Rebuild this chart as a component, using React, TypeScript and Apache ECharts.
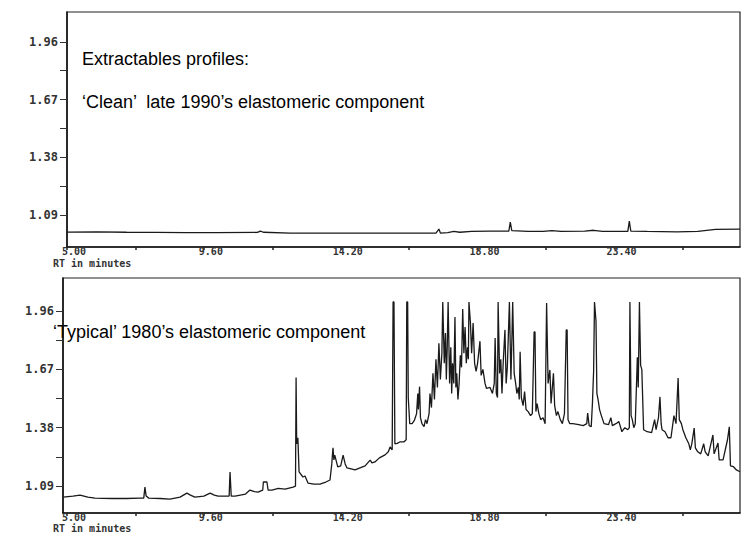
import React, { useEffect, useRef } from "react";
import * as echarts from "echarts";

// Retention time tick labels (minutes) and intensity tick labels
const xLabelTicks = [5.0, 9.6, 14.2, 18.8, 23.4];
const xAllTicks = [5.0, 7.3, 9.6, 11.9, 14.2, 16.5, 18.8, 21.1, 23.4, 25.7];
const yLabelTicks = [1.09, 1.38, 1.67, 1.96];
const yAllTicks = [1.09, 1.235, 1.38, 1.525, 1.67, 1.815, 1.96];

// 'Clean' late 1990's component: [RT minutes, response]
const cleanTrace: [number, number][] = [
  [5.0, 1.005], [6.0, 1.006], [7.0, 1.004], [8.0, 1.003], [9.0, 1.002], [10.0, 1.002],
  [11.4, 1.003], [11.5, 1.01], [11.6, 1.004], [12.5, 1.0], [13.5, 1.0], [14.5, 1.0],
  [15.5, 1.0], [16.5, 1.0], [17.4, 1.0], [17.5, 1.02], [17.55, 1.0], [17.8, 1.002],
  [18.0, 1.008], [18.2, 1.004], [18.6, 1.008], [19.2, 1.01], [19.85, 1.01], [19.9, 1.055],
  [19.95, 1.012], [20.5, 1.008], [21.0, 1.008], [21.3, 1.012], [21.6, 1.008], [22.4, 1.01],
  [22.7, 1.014], [23.0, 1.008], [23.85, 1.008], [23.9, 1.06], [23.95, 1.01], [24.5, 1.008],
  [25.5, 1.006], [26.2, 1.008], [26.8, 1.018], [27.62, 1.02],
];

// 'Typical' 1980's component: [RT minutes, response]
const typicalTrace: [number, number][] = [
  [4.87, 1.035], [5.2, 1.04], [5.44, 1.045], [5.7, 1.035], [5.94, 1.03], [6.5, 1.028],
  [7.0, 1.028], [7.45, 1.03], [7.58, 1.03], [7.62, 1.085], [7.66, 1.04], [7.75, 1.03],
  [8.13, 1.028], [8.46, 1.025], [8.8, 1.035], [9.03, 1.055], [9.15, 1.045], [9.3, 1.035],
  [9.6, 1.04], [9.81, 1.055], [9.95, 1.045], [10.08, 1.04], [10.45, 1.04], [10.48, 1.16],
  [10.52, 1.04], [10.65, 1.04], [11.0, 1.05], [11.15, 1.07], [11.3, 1.062], [11.42, 1.06],
  [11.58, 1.07], [11.6, 1.11], [11.72, 1.11], [11.76, 1.07], [11.89, 1.07], [12.1, 1.078],
  [12.33, 1.075], [12.6, 1.085], [12.68, 1.09], [12.7, 1.63], [12.72, 1.3], [12.76, 1.33],
  [12.8, 1.16], [12.93, 1.135], [13.0, 1.14], [13.1, 1.105], [13.3, 1.1], [13.5, 1.1],
  [13.7, 1.11], [13.84, 1.12], [13.9, 1.2], [13.94, 1.28], [13.97, 1.22], [14.0, 1.244],
  [14.1, 1.185], [14.2, 1.19], [14.28, 1.244], [14.35, 1.2], [14.41, 1.18], [14.55, 1.175],
  [14.68, 1.17], [14.85, 1.18], [15.02, 1.19], [15.19, 1.219], [15.25, 1.205], [15.35, 1.21],
  [15.5, 1.23], [15.69, 1.245], [15.8, 1.26], [15.86, 1.284], [15.93, 1.27], [15.96, 2.005],
  [15.99, 2.005], [16.02, 1.3], [16.1, 1.302], [16.2, 1.31], [16.33, 1.31], [16.4, 1.32],
  [16.42, 2.005], [16.45, 2.005], [16.47, 1.53], [16.52, 1.4], [16.6, 1.4], [16.68, 1.418],
  [16.75, 1.45], [16.79, 1.55], [16.81, 1.47], [16.85, 1.584], [16.88, 1.43], [16.93, 1.4],
  [17.0, 1.385], [17.05, 1.42], [17.1, 1.4], [17.17, 1.45], [17.2, 1.55], [17.25, 1.48],
  [17.3, 1.65], [17.35, 1.52], [17.4, 1.72], [17.45, 1.58], [17.5, 1.8], [17.55, 1.62],
  [17.6, 1.75], [17.63, 2.005], [17.65, 2.005], [17.68, 1.7], [17.72, 1.85], [17.75, 1.62],
  [17.78, 1.78], [17.81, 2.005], [17.83, 2.005], [17.86, 1.6], [17.9, 1.78], [17.93, 1.55],
  [17.96, 1.7], [18.0, 1.6], [18.04, 1.93], [18.07, 1.58], [18.1, 1.65], [18.14, 1.52],
  [18.18, 1.6], [18.22, 1.74], [18.26, 1.68], [18.3, 1.97], [18.34, 1.75], [18.38, 1.88],
  [18.42, 1.7], [18.46, 1.78], [18.49, 1.72], [18.51, 2.005], [18.53, 2.005], [18.56, 1.9],
  [18.6, 1.75], [18.65, 1.9], [18.7, 1.7], [18.75, 1.66], [18.8, 1.7], [18.88, 1.81],
  [18.92, 1.64], [18.98, 1.67], [19.05, 1.6], [19.1, 1.575], [19.22, 1.58], [19.3, 1.55],
  [19.36, 1.6], [19.39, 1.826], [19.43, 1.55], [19.47, 1.53], [19.49, 2.005], [19.51, 2.005],
  [19.54, 1.65], [19.58, 1.72], [19.62, 1.55], [19.66, 1.7], [19.72, 1.866], [19.76, 1.6],
  [19.8, 1.68], [19.87, 2.005], [19.89, 2.005], [19.92, 1.62], [19.95, 1.8], [19.98, 2.005],
  [20.0, 2.005], [20.03, 1.65], [20.08, 1.6], [20.12, 1.55], [20.17, 1.58], [20.2, 1.52],
  [20.23, 1.757], [20.27, 1.53], [20.33, 1.49], [20.38, 1.56], [20.43, 1.47], [20.5, 1.46],
  [20.58, 1.44], [20.64, 1.45], [20.7, 1.856], [20.73, 1.856], [20.76, 1.46], [20.8, 1.5],
  [20.86, 1.45], [20.92, 1.42], [21.0, 1.43], [21.07, 1.4], [21.12, 2.0], [21.14, 2.0],
  [21.17, 1.6], [21.23, 1.667], [21.27, 1.5], [21.35, 1.65], [21.39, 1.49], [21.45, 1.44],
  [21.5, 1.46], [21.58, 1.42], [21.65, 1.4], [21.72, 1.45], [21.78, 1.866], [21.81, 1.866],
  [21.84, 1.42], [21.9, 1.4], [22.0, 1.4], [22.2, 1.395], [22.35, 1.39], [22.47, 1.4],
  [22.5, 1.453], [22.55, 1.39], [22.62, 1.385], [22.66, 1.5], [22.7, 1.66], [22.73, 2.005],
  [22.75, 2.005], [22.78, 1.91], [22.81, 1.55], [22.85, 1.52], [22.9, 1.47], [22.96, 1.44],
  [23.05, 1.4], [23.2, 1.395], [23.28, 1.43], [23.33, 1.39], [23.45, 1.4], [23.55, 1.41],
  [23.65, 1.36], [23.75, 1.38], [23.85, 1.37], [23.9, 1.38], [23.92, 2.005], [23.94, 2.005],
  [23.96, 1.44], [24.0, 1.42], [24.05, 1.38], [24.1, 1.4], [24.17, 1.73], [24.2, 1.58],
  [24.24, 2.005], [24.26, 2.005], [24.28, 1.69], [24.32, 1.67], [24.38, 1.37], [24.5, 1.36],
  [24.65, 1.355], [24.75, 1.42], [24.8, 1.37], [24.88, 1.43], [24.93, 1.533], [24.97, 1.4],
  [25.0, 1.37], [25.1, 1.36], [25.2, 1.33], [25.3, 1.33], [25.4, 1.44], [25.47, 1.4],
  [25.54, 1.627], [25.58, 1.42], [25.65, 1.4], [25.7, 1.37], [25.8, 1.33], [25.9, 1.3],
  [25.95, 1.27], [26.0, 1.3], [26.08, 1.378], [26.12, 1.28], [26.2, 1.26], [26.3, 1.25],
  [26.4, 1.3], [26.45, 1.26], [26.55, 1.24], [26.71, 1.344], [26.75, 1.25], [26.88, 1.304],
  [26.92, 1.22], [27.05, 1.22], [27.2, 1.32], [27.26, 1.384], [27.3, 1.19], [27.4, 1.186],
  [27.5, 1.17], [27.62, 1.161],
];

const monoFont = "'DejaVu Sans Mono', monospace";
const textFont = "'Liberation Sans', Arial, sans-serif";

function makeXAxis(gridIndex: number, min: number) {
  return {
    type: "value",
    gridIndex,
    min,
    max: 27.62,
    axisLine: { show: true, lineStyle: { color: "#111", width: 1.5 } },
    axisTick: {
      show: true,
      customValues: xAllTicks,
      length: 3,
      lineStyle: { color: "#222", width: 1.5 },
    },
    axisLabel: {
      show: true,
      customValues: xLabelTicks,
      formatter: (v: number) => v.toFixed(2),
      margin: 0,
      lineHeight: 8,
      padding: [0, 0, 0, 14],
      fontFamily: monoFont,
      fontWeight: "bold",
      fontSize: 10,
      color: "#333",
    },
    splitLine: { show: false },
  };
}

function makeYAxis(gridIndex: number, min: number, max: number) {
  return {
    type: "value",
    gridIndex,
    min,
    max,
    axisLine: { show: true, lineStyle: { color: "#111", width: 1.5 } },
    axisTick: {
      show: true,
      customValues: yAllTicks,
      length: 7,
      lineStyle: { color: "#333", width: 1 },
    },
    axisLabel: {
      show: true,
      customValues: yLabelTicks,
      formatter: (v: number) => v.toFixed(2),
      margin: 9,
      fontFamily: monoFont,
      fontWeight: "bold",
      fontSize: 12,
      color: "#333",
    },
    splitLine: { show: false },
  };
}

export default function App() {
  const ref = useRef<HTMLDivElement>(null);

  useEffect(() => {
    if (!ref.current) return;
    const chart = echarts.init(ref.current, null, { renderer: "svg" });
    const option: any = {
      animation: false,
      backgroundColor: "#ffffff",
      grid: [
        { left: 67, top: 12, width: 673, height: 235, show: true, borderColor: "#222", borderWidth: 1.2, backgroundColor: "transparent" },
        { left: 63, top: 278, width: 677, height: 235, show: true, borderColor: "#222", borderWidth: 1.2, backgroundColor: "transparent" },
      ],
      xAxis: [makeXAxis(0, 5.0), makeXAxis(1, 4.866)],
      yAxis: [makeYAxis(0, 0.93, 2.11), makeYAxis(1, 0.956, 2.124)],
      series: [
        {
          type: "line",
          xAxisIndex: 0,
          yAxisIndex: 0,
          data: cleanTrace,
          symbol: "none",
          lineStyle: { color: "#1a1a1a", width: 1.3 },
        },
        {
          type: "line",
          xAxisIndex: 1,
          yAxisIndex: 1,
          data: typicalTrace,
          symbol: "none",
          lineStyle: { color: "#1a1a1a", width: 1.3 },
        },
      ],
      graphic: [
        {
          type: "text", left: 82, top: 50,
          style: { text: "Extractables profiles:", font: `18px ${textFont}`, fill: "#000" },
        },
        {
          type: "text", left: 82, top: 93,
          style: { text: "\u2018Clean\u2019  late 1990\u2019s elastomeric component", font: `18px ${textFont}`, fill: "#000" },
        },
        {
          type: "text", left: 53, top: 323,
          style: { text: "\u2018Typical\u2019 1980\u2019s elastomeric component", font: `18px ${textFont}`, fill: "#000" },
        },
        {
          type: "text", left: 53, top: 258,
          style: { text: "RT in minutes", font: `bold 10px ${monoFont}`, fill: "#333" },
        },
        {
          type: "text", left: 53, top: 523,
          style: { text: "RT in minutes", font: `bold 10px ${monoFont}`, fill: "#333" },
        },
      ],
    };
    chart.setOption(option);
    return () => chart.dispose();
  }, []);

  return (
    <div
      ref={ref}
      style={{ position: "fixed", left: 0, top: 0, width: 741, height: 534, background: "#fff" }}
    />
  );
}
